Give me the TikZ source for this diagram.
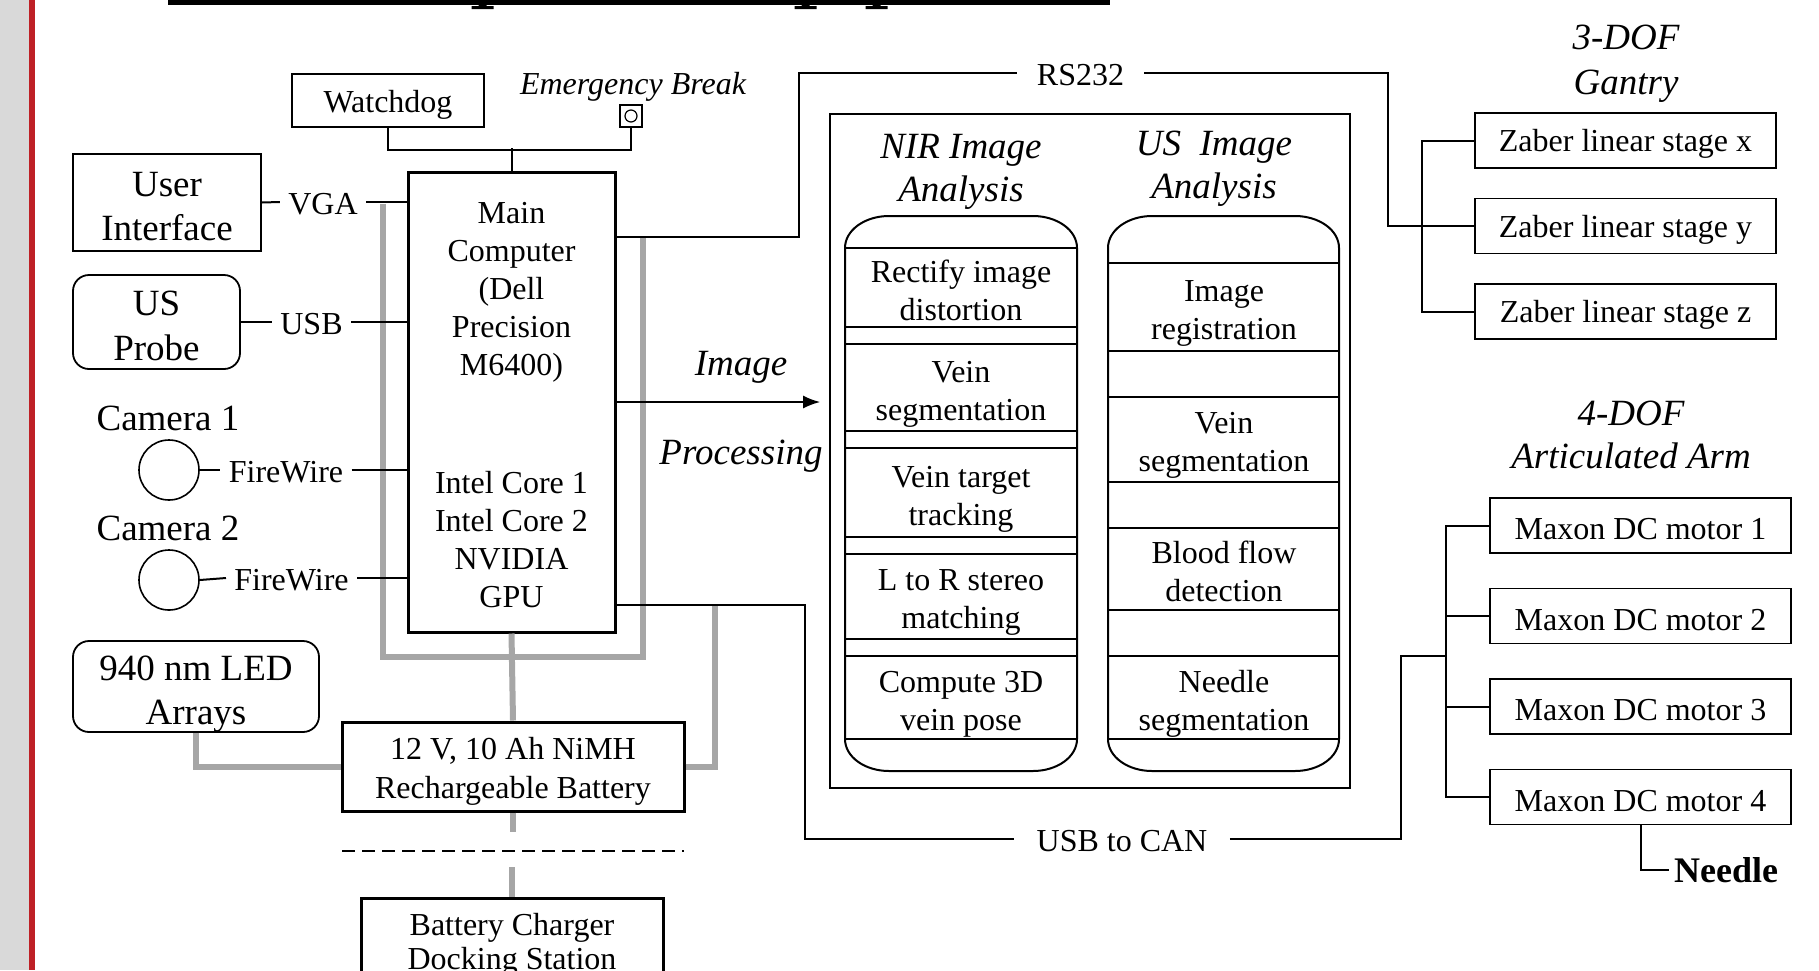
\documentclass[tikz,border=0pt]{standalone}
\usepackage{fontspec}
\setmainfont{Liberation Serif}
\usetikzlibrary{arrows.meta,positioning}
\definecolor{powergray}{RGB}{166,166,166}
\definecolor{sidegray}{RGB}{217,217,217}
\definecolor{sidered}{RGB}{190,32,38}
\newcommand{\nfont}{\fontsize{16}{19}\selectfont}
\newcommand{\lfont}{\fontsize{18.5}{21.5}\selectfont}
\newcommand{\boxstrut}[1]{\rule{0pt}{#1}}

\begin{document}
\begin{tikzpicture}[
		x=0.5pt, y=-0.5pt,
		lower/.style={execute at begin node={\rule{0pt}{#1}}},
		box/.style={draw, line width=0.9pt, fill=white, align=center, font=\nfont, inner sep=0pt},
		heavybox/.style={box, line width=1.5pt},
		softbox/.style={box, rounded corners=8pt, font=\lfont},
		stage/.style={box, minimum width=150.5pt, minimum height=27.5pt, lower=14.5pt},
		plain/.style={align=center, font=\nfont, inner sep=0pt},
		heading/.style={align=center, font=\lfont\itshape, inner sep=0pt},
		link/.style={inner xsep=4pt, inner ysep=0pt, font=\nfont, lower=13pt},
		camera/.style={circle, draw, line width=0.8pt, minimum size=30pt, inner sep=0pt},
		wire/.style={line width=1pt},
		power/.style={line width=3pt, powergray},
		rule/.style={line width=0.8pt},
	]
		\useasboundingbox (0,0) rectangle (1819,970);
		\clip (0,0) rectangle (1819,970);
		\fill[sidegray] (0,0) rectangle (29,970);
		\fill[sidered] (29,0) rectangle (35,970);
		% title underline, cut off at the top
		\fill (168,0) rectangle (1110,5);
		\foreach \c in {482.5,805.5,876.5}
			\fill (\c-4,0) rectangle (\c+4,8) (\c-11,6) rectangle (\c+11,9);
		
		% computer and peripherals
		\node (main) [heavybox, minimum width=103.5pt, minimum height=230pt] at (511.5,402)
			{\boxstrut{13.9pt}Main\\Computer\\(Dell\\Precision\\M6400)\\[40pt]Intel Core 1\\Intel Core 2\\NVIDIA\\GPU};
		\node (wd) [box, lower=15.5pt, minimum width=96pt, minimum height=26.5pt] at (388,100.5) {Watchdog};
		\node (stop) [draw, line width=0.8pt, fill=white, minimum size=11pt, inner sep=0pt] at (631,116) {};
		\draw[line width=0.6pt] (stop.center) circle [radius=3pt];
		\node (ebrk) [heading, font=\nfont\itshape] at (633,86.5) {Emergency Break};
		\node (ui) [box, font=\fontsize{18.5}{22}\selectfont, minimum width=94pt, minimum height=48.5pt] at (167,202.5) {\boxstrut{15.7pt}User\\Interface};
		\node (probe) [softbox, font=\fontsize{18.5}{22.5}\selectfont, minimum width=83.5pt, minimum height=47pt] at (156.5,322) {\boxstrut{15.7pt}US\\Probe};
		\node (cam1txt) [plain, font=\lfont] at (168,418) {Camera 1};
		\node (cam1) [camera] at (169,470) {};
		\node (cam2txt) [plain, font=\lfont] at (168,528) {Camera 2};
		\node (cam2) [camera] at (169,580) {};
		\node (led) [softbox, font=\fontsize{18.5}{22}\selectfont, minimum width=123pt, minimum height=45.5pt] at (196,686.5) {\boxstrut{19.5pt}940 nm LED\\Arrays};
		\node (batt) [heavybox, font=\fontsize{16}{19.5}\selectfont, minimum width=171pt, minimum height=44.5pt] at (513,766.5) {\boxstrut{15.5pt}12 V, 10 Ah NiMH\\Rechargeable Battery};
		\node (dock) [heavybox, font=\fontsize{16}{17}\selectfont, minimum width=151pt, minimum height=44.5pt] at (512,942.5) {\boxstrut{13.2pt}Battery Charger\\Docking Station};
		
		\node (vga) [link] at (323,202) {VGA};
		\node (usb) [link] at (311.5,322) {USB};
		\node (fw1) [link] at (286,470) {FireWire};
		\node (fw2) [link] at (291.5,578) {FireWire};
		\node (rs) [link, inner xsep=10pt] at (1080.5,73) {RS232};
		\node (can) [link, inner xsep=11pt] at (1122,839) {USB to CAN};
		
		% image processing
		\node (imgtxt) [heading] at (741,367) {Image};
		\node (proctxt) [heading] at (741,456) {Processing};
		\node (panel) [draw, line width=0.8pt, minimum width=260pt, minimum height=337pt, inner sep=0pt] at (1090,451) {};
		\node (nirhead) [heading] at (961,171.5) {NIR Image\\Analysis};
		\node (ushead) [heading] at (1214,168.5) {US~~Image\\Analysis};
		\foreach \l/\r in {845/1077,1108/1339}
			\draw[line width=1pt] (\l,248) .. controls (\l,230) and (\l+20,216) .. (\l+44,216) -- (\r-44,216)
				.. controls (\r-20,216) and (\r,230) .. (\r,248) -- (\r,739)
				.. controls (\r,757) and (\r-20,771) .. (\r-44,771) -- (\l+44,771)
				.. controls (\l+20,771) and (\l,757) .. (\l,739) -- cycle;
		\foreach \y in {248,327,344,431,448,537,554,639,656,739}
			\draw[rule] (845,\y) -- (1077,\y);
		\foreach \y in {263,351,397,482,528,610,656,739}
			\draw[rule] (1108,\y) -- (1339,\y);
		\node (rectify) [plain] at (961,290.5) {Rectify image\\distortion};
		\node (nirseg) [plain] at (961,394) {Vein\\segmentation};
		\node (track) [plain] at (961,499) {Vein target\\tracking};
		\node (stereo) [plain] at (961,602) {L to R stereo\\matching};
		\node (pose) [plain] at (961,704.5) {Compute 3D\\vein pose};
		\node (reg) [plain] at (1224,313) {Image\\registration};
		\node (usseg) [plain] at (1224,445.5) {Vein\\segmentation};
		\node (flow) [plain] at (1224,571) {Blood flow\\detection};
		\node (ndlseg) [plain] at (1224,704) {Needle\\segmentation};
		
		% gantry and arm
		\node (gantry) [heading, font=\fontsize{18.5}{22.5}\selectfont\itshape] at (1626,63.5) {3-DOF\\Gantry};
		\node (zx) [stage] at (1625.5,140.5) {Zaber linear stage x};
		\node (zy) [stage] at (1625.5,226) {Zaber linear stage y};
		\node (zz) [stage] at (1625.5,311.5) {Zaber linear stage z};
		\node (arm) [heading] at (1631,434.5) {4-DOF\\Articulated Arm};
		\node (m1) [stage] at (1640.5,525.5) {Maxon DC motor 1};
		\node (m2) [stage] at (1640.5,616) {Maxon DC motor 2};
		\node (m3) [stage] at (1640.5,706.5) {Maxon DC motor 3};
		\node (m4) [stage] at (1640.5,797) {Maxon DC motor 4};
		\node (needle) [font=\fontsize{18}{21}\selectfont\bfseries, inner xsep=2.5pt, inner ysep=0pt] at (1726,870) {Needle};
		
		\coordinate (busl) at (383,204);
		\coordinate (busr) at (643,238);
		\coordinate (chg) at (715,605);
		\coordinate (rsturn) at (799,73);
		\coordinate (rsdrop) at (1388,226);
		\coordinate (canturn) at (805,839);
		\coordinate (canrise) at (1401,656);
		\coordinate (armbus) at (1447,656);
		
		% power
		\draw[power] (busl) -- (383,657) -| (busr);
		\draw[power] (main.south) -- (batt.north);
		\draw[power] (led.south) |- (batt.west);
		\draw[power] (batt.east) -| (chg);
		\draw[power] (batt.south) -- ++(0,19);
		\draw[power] (dock.north) -- ++(0,-30);
		\draw[line width=1pt, dash pattern=on 6.5pt off 3.5pt] (342,851) -- (684,851);
		
		% signals
		\draw[wire] (wd.south) -- ++(0,22) -| (stop.south);
		\draw[wire] (main.north) -- ++(0,-22.5);
		\draw[wire] (ui.east) -- (vga.west);
		\draw[wire] (vga.east) -- (vga.east -| main.west);
		\draw[wire] (probe.east) -- (usb.west);
		\draw[wire] (usb.east) -- (usb.east -| main.west);
		\draw[wire] (cam1.east) -- (fw1.west);
		\draw[wire] (fw1.east) -- (fw1.east -| main.west);
		\draw[wire] (cam2.east) -- (fw2.west);
		\draw[wire] (fw2.east) -- (fw2.east -| main.west);
		\draw[wire] (main.east |- 0,237) -| (rsturn) -- (rs.west);
		\draw[wire] (rs.east) -| (rsdrop) -- (zy.west);
		\draw[wire] (zx.west) -- ++(-52,0) |- (zz.west);
		\draw[wire] (main.east |- 0,605) -| (canturn) -- (can.west);
		\draw[wire] (can.east) -| (canrise) -- (armbus);
		\draw[wire] (m1.west) -- ++(-43,0) |- (m4.west);
		\draw[wire] (m2.west) -- ++(-43,0);
		\draw[wire] (m3.west) -- ++(-43,0);
		\draw[wire] (m4.south) |- (needle.west);
		\draw[wire, -{Latex[length=8.5pt,width=6.5pt]}, shorten >=4.5pt] (main.east) -- (main.east -| panel.west);
	\end{tikzpicture}
\end{document}
